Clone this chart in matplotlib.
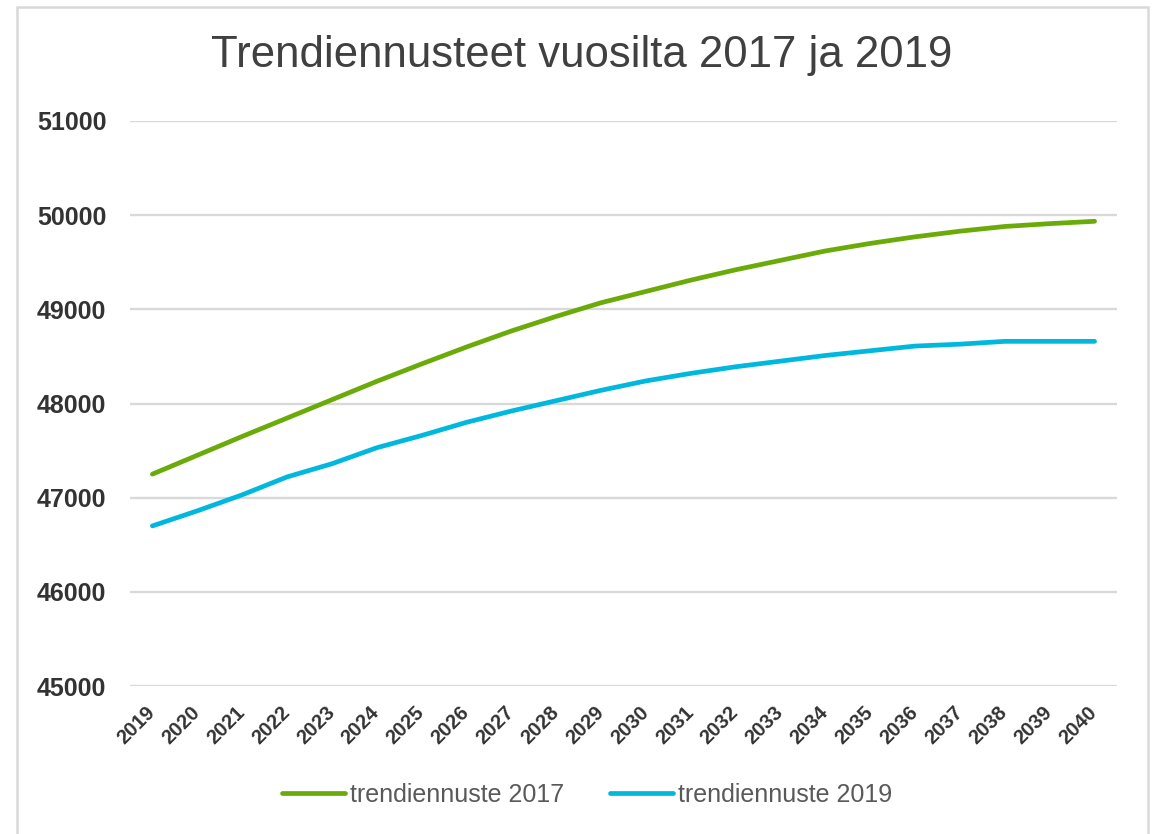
import matplotlib
matplotlib.use("Agg")
import matplotlib.pyplot as plt
import matplotlib.transforms as mtransforms
from matplotlib.patches import Rectangle

# values
years = [str(y) for y in range(2019, 2041)]
trend_2017 = [47250, 47450, 47650, 47845, 48040, 48235, 48420, 48600, 48770, 48925, 49070,
              49190, 49310, 49420, 49520, 49620, 49700, 49770, 49830, 49880, 49910, 49935]
trend_2019 = [46700, 46860, 47030, 47220, 47360, 47530, 47660, 47800, 47920, 48030, 48140,
              48240, 48320, 48390, 48450, 48510, 48560, 48610, 48630, 48660, 48660, 48660]
y_ticks = [45000, 46000, 47000, 48000, 49000, 50000, 51000]
series_labels = ["trendiennuste 2017", "trendiennuste 2019"]
title = "Trendiennusteet vuosilta 2017 ja 2019"

plt.rcParams['font.family'] = ['Liberation Sans', 'DejaVu Sans']

W, H = 1154, 834
fig = plt.figure(figsize=(W / 100, H / 100), dpi=100)
fig.patch.set_facecolor("white")

# chart frame
fig.patches.append(Rectangle((17 / W, -0.05), (1148 - 17) / W, 1.05 - 7 / H,
                             transform=fig.transFigure, fill=False,
                             edgecolor="#d9d9d9", linewidth=1.8))

ax = fig.add_axes([130 / W, 1 - 686 / H, (1117 - 130) / W, (686 - 121) / H])
x = list(range(len(years)))
l1, = ax.plot(x, trend_2017, color="#6aab0a", linewidth=3.4, solid_capstyle="round")
l2, = ax.plot(x, trend_2019, color="#00b8de", linewidth=3.4, solid_capstyle="round")

ax.set_xlim(-0.5, len(years) - 0.5)
ax.set_ylim(45000, 51000)
ax.set_yticks(y_ticks)
ax.set_yticklabels([str(v) for v in y_ticks], fontsize=18, fontweight="bold", color="#333333")
ax.set_xticks(x)
ax.set_xticklabels(years, rotation=45, ha="right", va="top", rotation_mode="anchor",
                   fontsize=14.5, fontweight="bold", color="#333333")
ax.tick_params(axis="y", length=0, pad=17)
ax.tick_params(axis="x", length=0, pad=12)
shift = mtransforms.ScaledTranslation(-7 / 100, 0, fig.dpi_scale_trans)
for lbl in ax.get_xticklabels():
    lbl.set_transform(lbl.get_transform() + shift)
ax.grid(axis="y", color="#d9d9d9", linewidth=1.7)
ax.set_axisbelow(True)
for s in ax.spines.values():
    s.set_visible(False)

fig.text(582 / W, 1 - 56 / H, title, ha="center", va="center", fontsize=31.5, color="#404040")

fig.legend([l1, l2], series_labels, loc="center", bbox_to_anchor=(587 / W, 1 - 795 / H),
           ncol=2, frameon=False, fontsize=18, handlelength=2.55, handletextpad=0.2,
           columnspacing=1.8, labelcolor="#595959")

fig.savefig("out.png", dpi=100)
